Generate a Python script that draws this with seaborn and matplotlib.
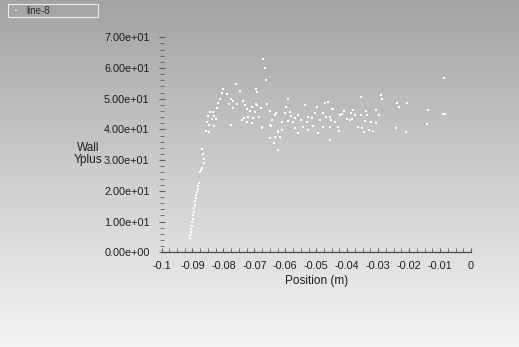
import numpy as np
import pandas as pd
import seaborn as sns
import matplotlib.pyplot as plt
from matplotlib.patches import Rectangle

# Wall Yplus along line-8
position = [
    # near-wall rise
    -0.0908, -0.0907, -0.0905, -0.0904, -0.0902, -0.0901, -0.0899, -0.0897, -0.0896,
    -0.0894, -0.0893, -0.0891, -0.0889, -0.0888, -0.0886, -0.0883, -0.0881, -0.0880,
    -0.0875, -0.0871, -0.0868, -0.0864, -0.0863, -0.0866, -0.0868,
    # -0.086 .. -0.069
    -0.0758, -0.0747, -0.0801, -0.0803, -0.0787, -0.0812, -0.0774, -0.0769, -0.0817,
    -0.0781, -0.0755, -0.0736, -0.0730, -0.0706, -0.0695, -0.0690, -0.0695, -0.0822,
    -0.0770, -0.0725, -0.0714, -0.0698, -0.0843, -0.0833, -0.0830, -0.0849, -0.0838,
    -0.0825, -0.0854, -0.0733, -0.0720, -0.0704, -0.0725, -0.0709, -0.0741, -0.0777,
    -0.0848, -0.0829, -0.0857, -0.0845,
    # -0.068 .. -0.060
    -0.0671, -0.0666, -0.0663, -0.0650, -0.0637, -0.0623, -0.0634, -0.0617, -0.0623,
    -0.0676, -0.0649, -0.0630,
    # -0.069 .. -0.044
    -0.0691, -0.0659, -0.0678, -0.0650, -0.0597, -0.0591, -0.0585, -0.0537, -0.0497,
    -0.0471, -0.0463, -0.0446, -0.0633, -0.0602, -0.0581, -0.0570, -0.0560, -0.0549,
    -0.0528, -0.0504, -0.0479, -0.0469, -0.0685, -0.0642, -0.0612, -0.0591, -0.0575,
    -0.0531, -0.0515, -0.0488, -0.0451, -0.0676, -0.0645, -0.0612, -0.0570, -0.0544,
    -0.0526, -0.0512, -0.0479, -0.0457, -0.0625, -0.0558, -0.0494,
    # -0.045 .. -0.020
    -0.0357, -0.0290, -0.0287, -0.0240, -0.0233, -0.0208, -0.0449, -0.0409, -0.0416,
    -0.0423, -0.0380, -0.0388, -0.0375, -0.0356, -0.0338, -0.0335, -0.0307, -0.0297,
    -0.0456, -0.0440, -0.0400, -0.0391, -0.0384, -0.0341, -0.0323, -0.0430, -0.0366,
    -0.0351, -0.0307, -0.0318, -0.0345, -0.0329, -0.0241, -0.0209, -0.0426, -0.0456,
    # outer part
    -0.0138, -0.0092, -0.0084, -0.0143, -0.0087,
]
wall_yplus = [
    4.7, 5.6, 6.6, 7.6, 8.6, 9.9, 10.8, 12.1, 13.1,
    14.4, 15.4, 16.7, 17.7, 18.7, 19.6, 20.6, 21.6, 22.6,
    26.3, 26.8, 27.4, 29.0, 30.3, 32.0, 33.7,
    54.7, 52.6, 53.2, 51.8, 51.5, 49.8, 49.8, 49.1, 48.7,
    48.3, 48.3, 49.1, 48.0, 47.2, 48.3, 52.3, 53.1, 46.9,
    46.9, 46.6, 46.1, 45.8, 45.6, 45.8, 44.5, 44.4, 43.3,
    43.4, 42.5, 43.6, 44.2, 43.8, 42.5, 42.0, 43.1, 41.5,
    41.5, 41.1, 39.6, 39.3,
    62.9, 59.9, 56.1, 37.1, 35.7, 33.3, 37.7, 37.7, 39.6,
    40.4, 41.5, 45.3,
    48.0, 48.2, 46.9, 46.1, 47.2, 49.9, 45.8, 48.0, 47.2,
    48.5, 48.9, 46.6, 44.7, 45.3, 44.5, 43.6, 44.7, 43.1,
    44.2, 45.3, 45.3, 44.2, 44.0, 43.1, 42.5, 42.9, 42.5,
    42.5, 43.6, 43.1, 43.1, 40.7, 41.1, 39.8, 40.4, 40.7,
    39.8, 41.1, 40.9, 40.7, 39.3, 38.8, 38.8,
    50.7, 51.2, 49.8, 48.7, 47.2, 48.5, 46.6, 46.1, 45.0,
    44.7, 46.4, 45.5, 44.7, 44.7, 46.1, 44.7, 46.4, 44.7,
    44.2, 42.5, 43.3, 43.1, 43.3, 42.9, 42.5, 40.7, 40.9,
    40.4, 42.0, 39.5, 39.3, 39.8, 40.4, 39.3, 39.6, 36.6,
    46.4, 45.0, 45.0, 41.8, 56.7,
]
x_ticks = [-0.1, -0.09, -0.08, -0.07, -0.06, -0.05, -0.04, -0.03, -0.02, -0.01, 0]
x_tick_labels = ['-0.1', '-0.09', '-0.08', '-0.07', '-0.06', '-0.05', '-0.04',
                 '-0.03', '-0.02', '-0.01', '0']
y_ticks = [0, 10, 20, 30, 40, 50, 60, 70]

df = pd.DataFrame({'Position (m)': position, 'Wall Yplus': wall_yplus})

plt.rcParams['font.family'] = ['Liberation Sans Narrow', 'Liberation Sans', 'DejaVu Sans']
TEXT = '#1e1e1e'

fig = plt.figure(figsize=(5.19, 3.47), dpi=100)

# grey-to-white vertical gradient behind everything
bg = fig.add_axes([0, 0, 1, 1], zorder=0)
grad = np.linspace(0, 1, 256).reshape(-1, 1)
bg.imshow(grad, cmap=sns.blend_palette(['#a3a3a3', '#cdcdcd', '#f4f4f4'], as_cmap=True),
          aspect='auto', extent=[0, 1, 0, 1], origin='upper')
bg.axis('off')

ax = fig.add_axes([0.3112, 0.2729, 0.5963, 0.6196], zorder=1)
ax.patch.set_alpha(0)
sns.scatterplot(data=df, x='Position (m)', y='Wall Yplus', ax=ax, color='white',
                marker='s', s=3.5, linewidth=0)

ax.set_xlim(-0.1, 0)
ax.set_ylim(0, 70)
for side in ['top', 'right', 'left']:
    ax.spines[side].set_visible(False)
ax.spines['bottom'].set_color('#4a4a4a')
ax.spines['bottom'].set_linewidth(0.9)

ax.set_xticks(x_ticks)
ax.set_xticklabels(x_tick_labels)
ax.set_xticks(np.arange(-0.1, 0.0001, 0.0025), minor=True)
ax.set_yticks(y_ticks)
ax.set_yticklabels(['%.2e' % v for v in y_ticks])
ax.set_yticks(np.arange(0, 70.1, 2), minor=True)
ax.tick_params(axis='both', which='major', labelsize=7.8, colors='#606060', labelcolor=TEXT,
               direction='inout', length=5, width=0.8)
ax.tick_params(axis='both', which='minor', colors='#606060', direction='inout',
               length=2.5, width=0.6)
ax.tick_params(axis='x', which='both', direction='in', length=3)
ax.tick_params(axis='x', which='major', pad=6)
ax.tick_params(axis='y', which='major', pad=6)

ax.set_xlabel('Position (m)', fontsize=8.5, color=TEXT, labelpad=3)
ax.set_ylabel('')
fig.text(88 / 519, 1 - 154 / 347, 'Wall\nYplus', fontsize=8.5, color=TEXT,
         ha='center', va='center', linespacing=0.95)

# legend box in the top-left corner
fig.patches.append(Rectangle((8 / 519, 1 - 17 / 347), 90 / 519, 13 / 347,
                             transform=fig.transFigure, fill=False,
                             edgecolor='#ececec', linewidth=0.8, zorder=3))
fig.text(16 / 519, 1 - 10.5 / 347, '\u25aa', fontsize=4, color='white',
         ha='center', va='center', zorder=4)
fig.text(26 / 519, 1 - 10.5 / 347, 'line-8', fontsize=7, color='#333333',
         ha='left', va='center', zorder=4)

fig.savefig('out.png', dpi=100)
